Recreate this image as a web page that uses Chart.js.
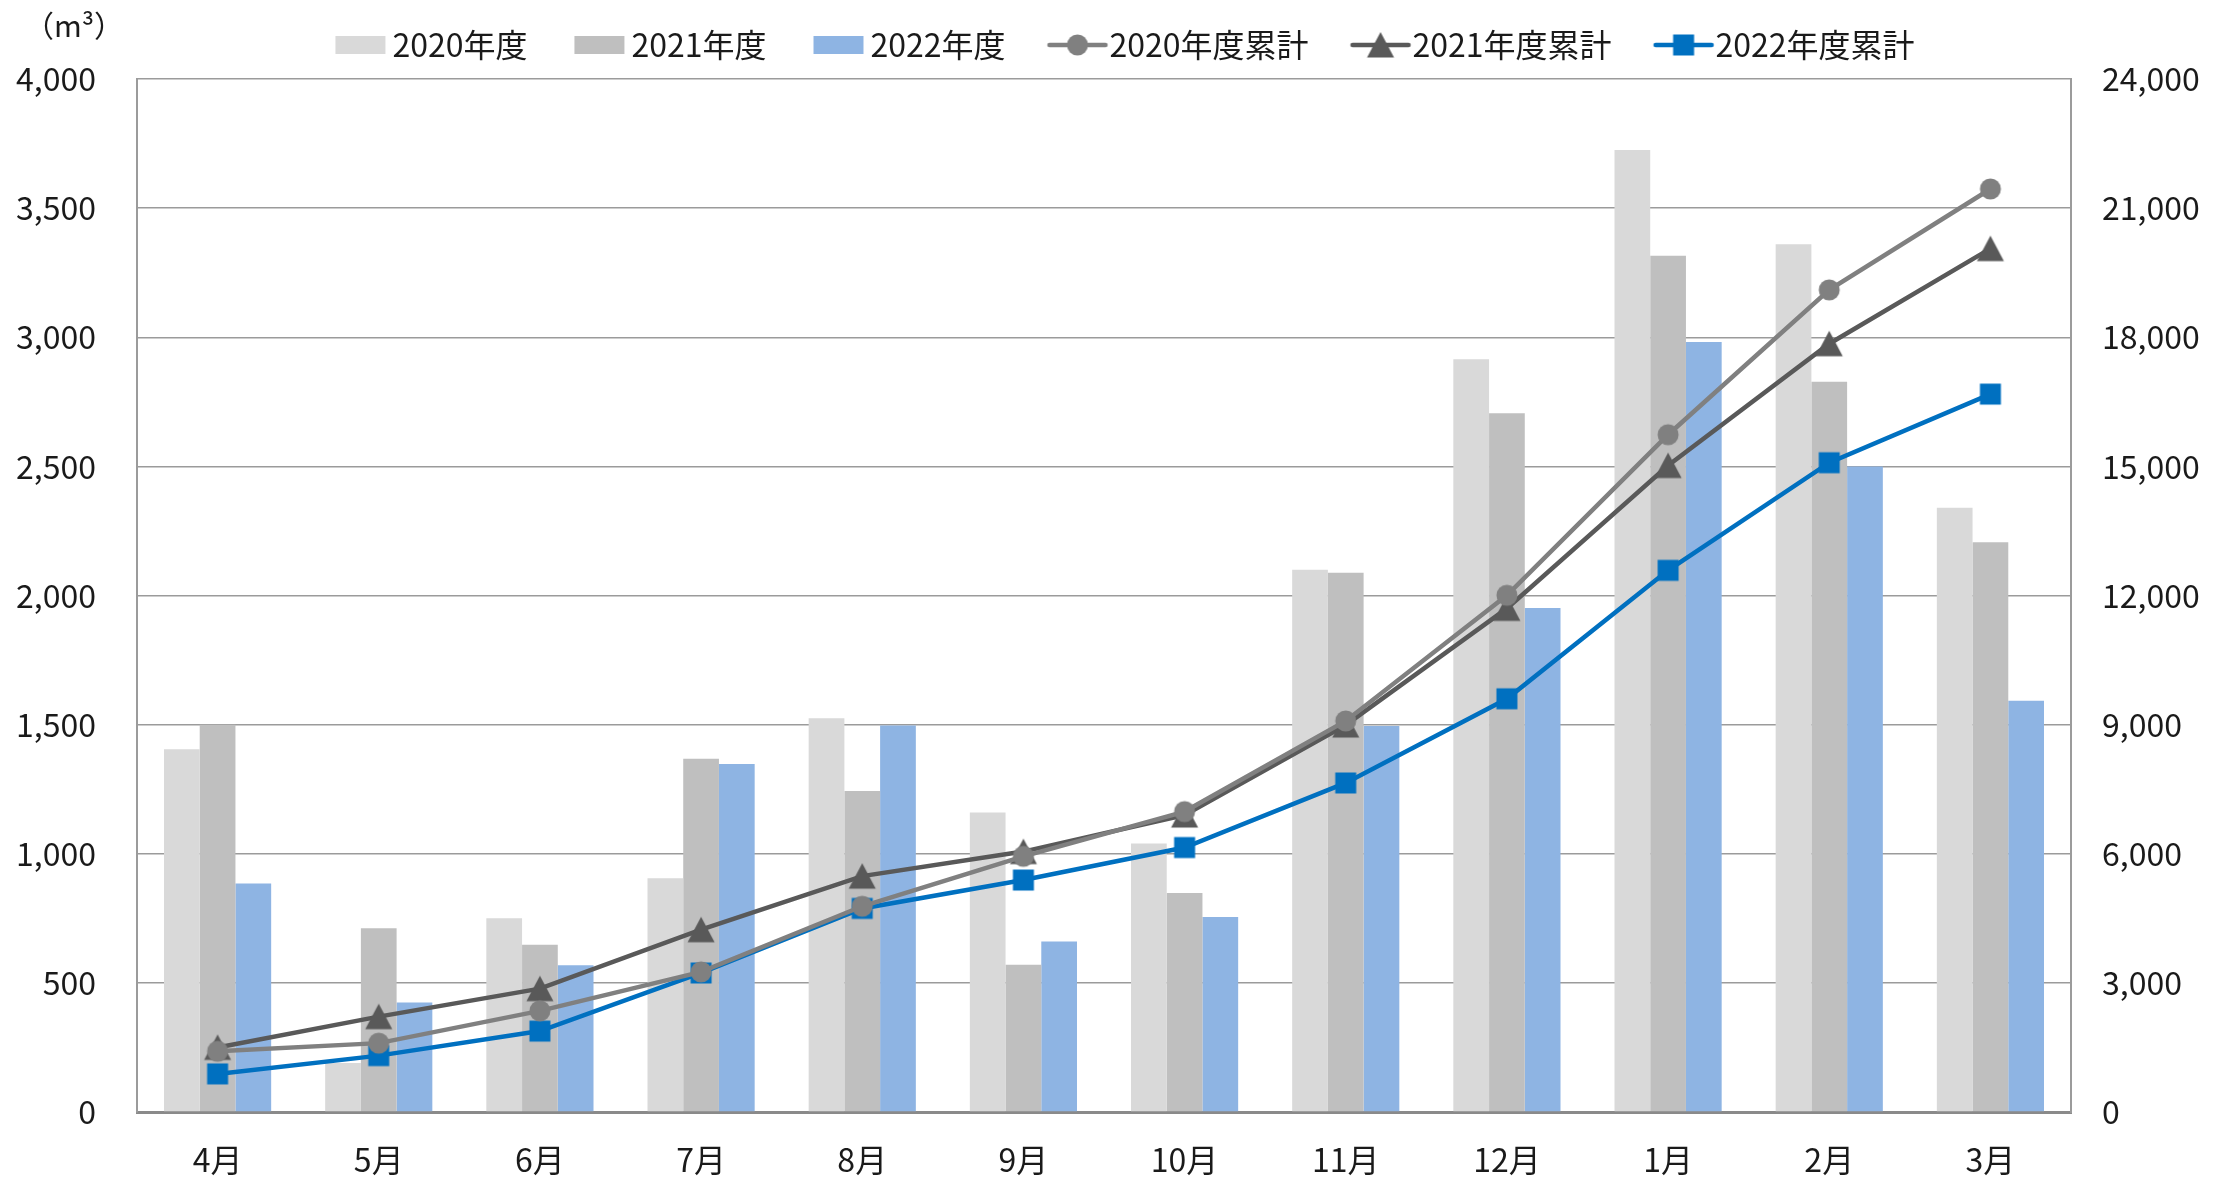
<!DOCTYPE html>
<html>
<head>
<meta charset="utf-8">
<script src="https://cdn.jsdelivr.net/npm/chart.js@4/dist/chart.umd.min.js"></script>
<style>
html,body{margin:0;padding:0;background:#fff;}
#wrap{width:2223px;height:1182px;position:relative;}
</style>
</head>
<body>
<div id="wrap"><canvas id="c" width="2223" height="1182"></canvas></div>
<script>
// ---- data ----
const months = ['4月','5月','6月','7月','8月','9月','10月','11月','12月','1月','2月','3月'];
const seriesLabels = ['2020年度','2021年度','2022年度','2020年度累計','2021年度累計','2022年度累計'];
const fy2020 = [1405, 190, 750, 905, 1525, 1160, 1040, 2100, 2915, 3725, 3360, 2340];
const fy2021 = [1500, 712, 648, 1368, 1243, 570, 848, 2088, 2706, 3316, 2828, 2206];
const fy2022 = [885, 424, 568, 1348, 1497, 660, 755, 1495, 1952, 2982, 2500, 1592];
const cum2020 = [1410, 1600, 2350, 3255, 4780, 5940, 6980, 9085, 12005, 15735, 19100, 21445];
const cum2021 = [1500, 2215, 2865, 4235, 5480, 6050, 6900, 8990, 11700, 15020, 17850, 20060];
const cum2022 = [885, 1310, 1880, 3230, 4730, 5390, 6145, 7645, 9600, 12585, 15085, 16680];
const leftTicks = [0, 500, 1000, 1500, 2000, 2500, 3000, 3500, 4000];
const rightTicks = [0, 3000, 6000, 9000, 12000, 15000, 18000, 21000, 24000];
const unitLabel = '（m³）';

// ---- styles ----
const FONT = "'Noto Sans CJK JP','Noto Sans',sans-serif";
const TXT = '#1a1a1a';
const barColors = ['#D9D9D9', '#BFBFBF', '#8EB4E3'];
const lineColors = ['#808080', '#595959', '#0070C0'];
const lineWidths = [4.5, 4.5, 4.5];
const shapes = ['circle', 'triangle', 'square'];

function drawShape(ctx, shape, cx, cy, color) {
  ctx.fillStyle = color;
  ctx.beginPath();
  if (shape === 'circle') {
    ctx.arc(cx, cy, 10.5, 0, Math.PI * 2);
  } else if (shape === 'triangle') {
    ctx.moveTo(cx, cy - 13);
    ctx.lineTo(cx + 13.5, cy + 12.5);
    ctx.lineTo(cx - 13.5, cy + 12.5);
    ctx.closePath();
  } else {
    ctx.rect(cx - 10.5, cy - 10.5, 21, 21);
  }
  ctx.fill();
}
function markerCanvas(shape, color) {
  const c = document.createElement('canvas');
  c.width = 30; c.height = 30;
  drawShape(c.getContext('2d'), shape, 15, 15, color);
  return c;
}
function legendBarIcon(color) {
  const c = document.createElement('canvas');
  c.width = 76; c.height = 32;
  const g = c.getContext('2d');
  g.fillStyle = color;
  g.fillRect(19, 7, 50, 18);
  return c;
}
function legendLineIcon(color, lw, shape) {
  const c = document.createElement('canvas');
  c.width = 76; c.height = 32;
  const g = c.getContext('2d');
  g.strokeStyle = color; g.lineWidth = lw; g.lineCap = 'round';
  g.beginPath(); g.moveTo(16, 16); g.lineTo(72, 16); g.stroke();
  drawShape(g, shape, 44, 16, color);
  return c;
}

const legendIcons = [
  legendBarIcon(barColors[0]), legendBarIcon(barColors[1]), legendBarIcon(barColors[2]),
  legendLineIcon(lineColors[0], lineWidths[0], shapes[0]),
  legendLineIcon(lineColors[1], lineWidths[1], shapes[1]),
  legendLineIcon(lineColors[2], lineWidths[2], shapes[2])
];

const barData = [fy2020, fy2021, fy2022];
const cumData = [cum2020, cum2021, cum2022];

const datasets = [];
barData.forEach((d, i) => datasets.push({
  type: 'bar', label: seriesLabels[i], data: d,
  backgroundColor: barColors[i], borderWidth: 0,
  yAxisID: 'y', order: 1, barPercentage: 1, categoryPercentage: 0.665
}));
cumData.forEach((d, i) => datasets.push({
  type: 'line', label: seriesLabels[3 + i], data: d,
  borderColor: lineColors[i], backgroundColor: lineColors[i], borderWidth: lineWidths[i],
  pointStyle: markerCanvas(shapes[i], lineColors[i]), pointRadius: 10, pointHoverRadius: 10,
  yAxisID: 'y2', order: 0, tension: 0, fill: false
}));

Chart.defaults.font.family = FONT;
Chart.defaults.font.size = 32;
Chart.defaults.color = TXT;

const fmt = v => Number(v).toLocaleString('en-US');

const fixLayout = {
  id: 'fixLayout',
  beforeLayout(chart) {
    const lg = chart.legend;
    if (lg && !lg._patched) {
      const f = lg.fit;
      lg.fit = function () { f.call(this); this.height = 94; };
      lg._patched = true;
    }
  },
  afterDraw(chart) {
    const ctx = chart.ctx;
    ctx.save();
    ctx.font = '30px ' + FONT;
    ctx.fillStyle = TXT;
    ctx.textAlign = 'center';
    ctx.textBaseline = 'middle';
    ctx.fillText(unitLabel, 74, 26);
    ctx.restore();
  }
};

new Chart(document.getElementById('c'), {
  data: { labels: months, datasets },
  options: {
    responsive: false,
    animation: false,
    devicePixelRatio: 1,
    layout: { padding: { top: -15, left: 0, right: -24, bottom: 0 } },
    plugins: {
      tooltip: { enabled: false },
      legend: {
        position: 'top', align: 'center',
        labels: {
          usePointStyle: true, pointStyleWidth: 44, padding: 44,
          font: { size: 32 }, color: TXT,
          sort: (a, b) => a.datasetIndex - b.datasetIndex,
          generateLabels(chart) {
            const items = Chart.defaults.plugins.legend.labels.generateLabels(chart);
            items.forEach(it => { it.pointStyle = legendIcons[it.datasetIndex]; });
            return items;
          }
        }
      }
    },
    scales: {
      x: {
        grid: { display: false, drawTicks: false },
        border: { display: true, color: '#8a8a8a', width: 3 },
        ticks: { padding: 29, font: { size: 32 }, color: TXT },
        afterFit(s) { s.height = 70; }
      },
      y: {
        position: 'left', min: 0, max: 4000,
        afterBuildTicks(s) { s.ticks = leftTicks.map(v => ({ value: v })); },
        ticks: { padding: 41, font: { size: 32 }, color: TXT, callback: fmt },
        grid: { color: '#9b9b9b', lineWidth: 1.5, drawTicks: false },
        border: { display: true, color: '#9b9b9b', width: 2 },
        afterFit(s) { s.width = 137; }
      },
      y2: {
        position: 'right', min: 0, max: 24000,
        afterBuildTicks(s) { s.ticks = rightTicks.map(v => ({ value: v })); },
        ticks: { padding: 31, font: { size: 32 }, color: TXT, callback: fmt },
        grid: { display: false, drawTicks: false },
        border: { display: true, color: '#9b9b9b', width: 2 },
        afterFit(s) { s.width = 176; }
      }
    }
  },
  plugins: [fixLayout]
});
</script>
</body>
</html>
